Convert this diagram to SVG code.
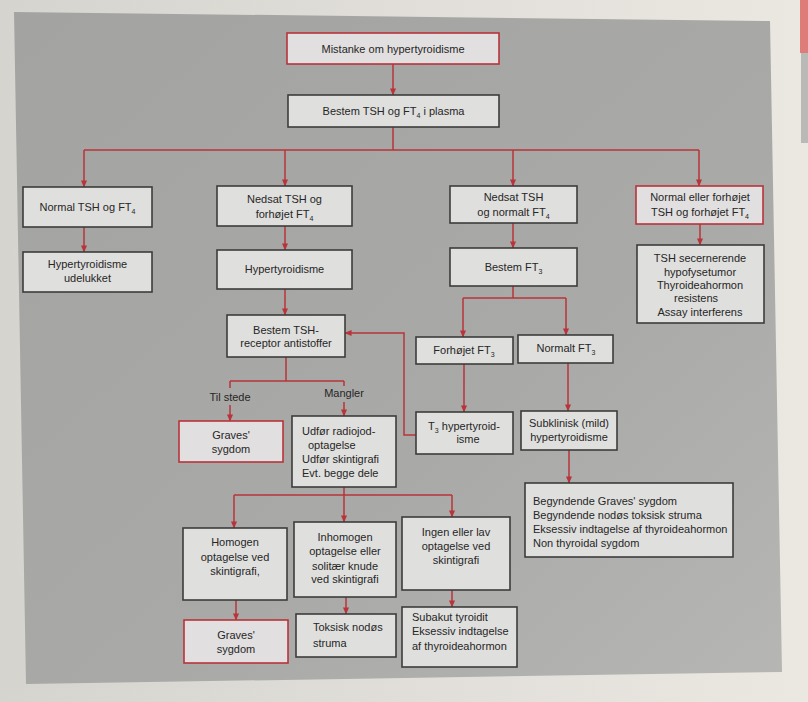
<svg xmlns="http://www.w3.org/2000/svg" width="808" height="702" viewBox="0 0 808 702">
<defs>
<linearGradient id="pg" x1="0" y1="0" x2="1" y2="0">
<stop offset="0" stop-color="#d6d4cf"/><stop offset="1" stop-color="#ebe8e2"/>
</linearGradient>
<linearGradient id="panel" x1="0" y1="0" x2="1" y2="1">
<stop offset="0" stop-color="#a3a3a1"/><stop offset="0.6" stop-color="#a9a9a7"/><stop offset="1" stop-color="#b6b6b4"/>
</linearGradient>
<marker id="ah" viewBox="0 0 8 8" refX="7.5" refY="4" markerWidth="7" markerHeight="7" markerUnits="userSpaceOnUse" orient="auto">
<path d="M0,0.5 L8,4 L0,7.5 Z" fill="#b8343a"/>
</marker>
<style>
.bx{fill:#dfdfdd;stroke:#3c3c3c;stroke-width:1.6}
.rb{fill:#e1dfdf;stroke:#b8343a;stroke-width:1.6}
text{font-family:"Liberation Sans",Arial,sans-serif;font-size:11px;fill:#262626}
.c{text-anchor:middle}
.sub{font-size:7px}
#connectors path,#connectors line{fill:none;stroke:#b8343a;stroke-width:1.5}
</style>
</defs>
<rect width="808" height="702" fill="url(#pg)"/>
<rect x="800" y="0" width="8" height="53" fill="#de7c79"/>
<rect x="801" y="53" width="7" height="90" fill="#b9b9b7"/>
<polygon points="14,12 770,21 782,672 26,684" fill="url(#panel)"/>

<g id="connectors">
<line x1="393" y1="64" x2="393" y2="95" marker-end="url(#ah)"/>
<path d="M393,127 V150 M84,150 H699"/>
<line x1="84" y1="150" x2="84" y2="187" marker-end="url(#ah)"/>
<line x1="285" y1="150" x2="285" y2="186" marker-end="url(#ah)"/>
<line x1="513" y1="150" x2="513" y2="186" marker-end="url(#ah)"/>
<line x1="699" y1="150" x2="699" y2="186" marker-end="url(#ah)"/>
<line x1="84" y1="227" x2="84" y2="252" marker-end="url(#ah)"/>
<line x1="285" y1="226" x2="285" y2="250" marker-end="url(#ah)"/>
<line x1="513" y1="223" x2="513" y2="248" marker-end="url(#ah)"/>
<line x1="700" y1="224" x2="700" y2="245" marker-end="url(#ah)"/>
<line x1="285" y1="289" x2="285" y2="315" marker-end="url(#ah)"/>
<path d="M513,286 V298 M463,298 H566"/>
<line x1="463" y1="298" x2="463" y2="337" marker-end="url(#ah)"/>
<line x1="566" y1="298" x2="566" y2="335" marker-end="url(#ah)"/>
<line x1="464" y1="364" x2="464" y2="412" marker-end="url(#ah)"/>
<line x1="568" y1="363" x2="568" y2="411" marker-end="url(#ah)"/>
<line x1="569" y1="450" x2="569" y2="483" marker-end="url(#ah)"/>
<path d="M416,435 H404 V333 H345" marker-end="url(#ah)"/>
<path d="M286,357 V381 M230,381 H344 M230,381 V388 M344,381 V386"/>
<line x1="230" y1="405" x2="230" y2="421" marker-end="url(#ah)"/>
<line x1="344" y1="402" x2="344" y2="416" marker-end="url(#ah)"/>
<path d="M344,487 V495 M234,495 H452"/>
<line x1="234" y1="495" x2="234" y2="528" marker-end="url(#ah)"/>
<line x1="344" y1="495" x2="344" y2="522" marker-end="url(#ah)"/>
<line x1="452" y1="495" x2="452" y2="517" marker-end="url(#ah)"/>
<line x1="236" y1="600" x2="236" y2="620" marker-end="url(#ah)"/>
<line x1="346" y1="597" x2="346" y2="614" marker-end="url(#ah)"/>
<line x1="452" y1="590" x2="452" y2="607" marker-end="url(#ah)"/>
</g>

<g id="n-mistanke"><rect class="rb" x="287" y="33" width="212" height="31"/><text class="c" x="393" y="52.5">Mistanke om hypertyroidisme</text></g>
<g id="n-bestem-tsh-ft4"><rect class="bx" x="288" y="95" width="211" height="32"/><text class="c" x="393.5" y="115">Bestem TSH og FT<tspan class="sub" dy="3">4</tspan><tspan dy="-3"> i plasma</tspan></text></g>

<g id="n-normal"><rect class="bx" x="23" y="187" width="129" height="40"/><text class="c" x="87.5" y="211">Normal TSH og FT<tspan class="sub" dy="3">4</tspan></text></g>
<g id="n-nedsat-forhojet"><rect class="bx" x="217" y="186" width="135" height="40"/><text class="c" x="284.5" y="203">Nedsat TSH og</text><text class="c" x="284.5" y="218">forhøjet FT<tspan class="sub" dy="3">4</tspan></text></g>
<g id="n-nedsat-normalt"><rect class="bx" x="450" y="186" width="127" height="37"/><text class="c" x="513.5" y="201">Nedsat TSH</text><text class="c" x="513.5" y="216">og normalt FT<tspan class="sub" dy="3">4</tspan></text></g>
<g id="n-normal-eller"><rect class="rb" x="636" y="186" width="127" height="38"/><text class="c" x="700" y="201">Normal eller forhøjet</text><text class="c" x="700" y="216">TSH og forhøjet FT<tspan class="sub" dy="3">4</tspan></text></g>

<g id="n-udelukket"><rect class="bx" x="23" y="252" width="129" height="40"/><text class="c" x="87.5" y="268">Hypertyroidisme</text><text class="c" x="87.5" y="282">udelukket</text></g>
<g id="n-hypertyroidisme"><rect class="bx" x="217" y="250" width="135" height="39"/><text class="c" x="284.5" y="273">Hypertyroidisme</text></g>
<g id="n-bestem-ft3"><rect class="bx" x="450" y="248" width="127" height="38"/><text class="c" x="513.5" y="271">Bestem FT<tspan class="sub" dy="3">3</tspan></text></g>
<g id="n-tsh-secernerende"><rect class="bx" x="637" y="245" width="127" height="78"/>
<text class="c" x="700" y="262">TSH secernerende</text><text class="c" x="700" y="276">hypofysetumor</text><text class="c" x="700" y="289">Thyroideahormon</text><text class="c" x="696" y="302">resistens</text><text class="c" x="700" y="316">Assay interferens</text></g>

<g id="n-bestem-trab"><rect class="bx" x="227" y="315" width="118" height="42"/><text class="c" x="286" y="334">Bestem TSH-</text><text class="c" x="286" y="347">receptor antistoffer</text></g>
<g id="n-forhojet-ft3"><rect class="bx" x="416" y="337" width="97" height="27"/><text class="c" x="464" y="354">Forhøjet FT<tspan class="sub" dy="3">3</tspan></text></g>
<g id="n-normalt-ft3"><rect class="bx" x="518" y="335" width="95" height="28"/><text class="c" x="566" y="352">Normalt FT<tspan class="sub" dy="3">3</tspan></text></g>

<g id="lbl-til-stede"><text class="c" x="230" y="401">Til stede</text></g>
<g id="lbl-mangler"><text class="c" x="344" y="397">Mangler</text></g>

<g id="n-graves-1"><rect class="rb" x="179" y="421" width="104" height="41"/><text class="c" x="231" y="439">Graves'</text><text class="c" x="231" y="453">sygdom</text></g>
<g id="n-udfor"><rect class="bx" x="292" y="416" width="104" height="71"/><text x="302" y="435">Udfør radiojod-</text><text x="308" y="449">optagelse</text><text x="302" y="463">Udfør skintigrafi</text><text x="302" y="477">Evt. begge dele</text></g>
<g id="n-t3"><rect class="bx" x="416" y="412" width="97" height="42"/><text class="c" x="464" y="430">T<tspan class="sub" dy="3">3</tspan><tspan dy="-3"> hypertyroid-</tspan></text><text class="c" x="468" y="443">isme</text></g>
<g id="n-subklinisk"><rect class="bx" x="521" y="411" width="96" height="39"/><text class="c" x="569" y="427">Subklinisk (mild)</text><text class="c" x="569" y="441">hypertyroidisme</text></g>
<g id="n-begyndende"><rect class="bx" x="525" y="483" width="208" height="74"/><text x="533" y="505">Begyndende Graves' sygdom</text><text x="533" y="519">Begyndende nodøs toksisk struma</text><text x="533" y="533">Eksessiv indtagelse af thyroideahormon</text><text x="533" y="547">Non thyroidal sygdom</text></g>

<g id="n-homogen"><rect class="bx" x="183" y="528" width="104" height="72"/><text class="c" x="235" y="546">Homogen</text><text class="c" x="235" y="561">optagelse ved</text><text class="c" x="235" y="575">skintigrafi,</text></g>
<g id="n-inhomogen"><rect class="bx" x="294" y="522" width="102" height="75"/><text class="c" x="345" y="541">Inhomogen</text><text class="c" x="345" y="555">optagelse eller</text><text class="c" x="345" y="570">solitær knude</text><text class="c" x="345" y="583">ved skintigrafi</text></g>
<g id="n-ingen"><rect class="bx" x="402" y="517" width="108" height="73"/><text class="c" x="456" y="536">Ingen eller lav</text><text class="c" x="456" y="550">optagelse ved</text><text class="c" x="456" y="564">skintigrafi</text></g>

<g id="n-graves-2"><rect class="rb" x="184" y="620" width="104" height="43"/><text class="c" x="236" y="639">Graves'</text><text class="c" x="236" y="653">sygdom</text></g>
<g id="n-toksisk"><rect class="bx" x="296" y="614" width="100" height="43"/><text x="313" y="631">Toksisk nodøs</text><text x="313" y="647">struma</text></g>
<g id="n-subakut"><rect class="bx" x="402" y="607" width="115" height="60"/><text x="412" y="621">Subakut tyroidit</text><text x="412" y="635">Eksessiv indtagelse</text><text x="412" y="650">af thyroideahormon</text></g>
</svg>
